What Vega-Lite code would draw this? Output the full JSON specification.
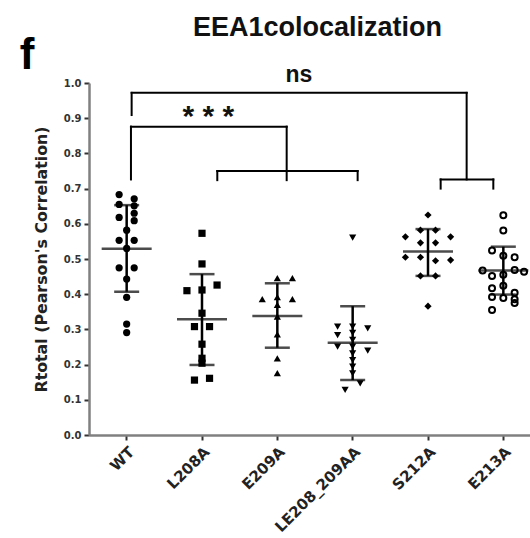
{
  "$schema": "https://vega.github.io/schema/vega-lite/v6.json",
  "width": 441,
  "height": 352,
  "autosize": {"type": "none"},
  "padding": {"left": 89, "top": 83, "right": 0, "bottom": 103},
  "background": "white",
  "title": {"text": "EEA1colocalization", "font": "Liberation Sans", "fontSize": 27, "fontWeight": "bold", "color": "#111", "anchor": "middle", "frame": "group", "dx": 8, "offset": -8},
  "config": {
    "view": {"stroke": null},
    "font": "DejaVu Sans",
    "axis": {"domainColor": "#808080", "domainWidth": 2.5, "tickColor": "#333", "tickWidth": 2, "tickSize": 5, "labelColor": "#333", "labelFont": "DejaVu Sans", "labelFontWeight": "bold", "grid": false, "titleColor": "#222"},
    "axisY": {"labelFontSize": 10, "labelPadding": 3, "titleFont": "DejaVu Sans", "titleFontSize": 15.8, "titleFontWeight": "bold", "titlePadding": 14, "labelOverlap": false, "labelSeparation": 0},
    "axisX": {"labelFontSize": 15, "labelAngle": -45, "labelPadding": 4, "labelColor": "#222"}
  },
  "datasets": {
    "points": [
      {"group": "WT", "jitter": -2, "value": 0.683}, {"group": "WT", "jitter": 2, "value": 0.671}, {"group": "WT", "jitter": -2, "value": 0.655}, {"group": "WT", "jitter": 2, "value": 0.651}, {"group": "WT", "jitter": 2, "value": 0.630}, {"group": "WT", "jitter": -2, "value": 0.618}, {"group": "WT", "jitter": 2, "value": 0.609}, {"group": "WT", "jitter": 0, "value": 0.582}, {"group": "WT", "jitter": -2, "value": 0.553}, {"group": "WT", "jitter": 2, "value": 0.553}, {"group": "WT", "jitter": 0, "value": 0.530}, {"group": "WT", "jitter": -2, "value": 0.475}, {"group": "WT", "jitter": 2, "value": 0.475}, {"group": "WT", "jitter": 0, "value": 0.443}, {"group": "WT", "jitter": 0, "value": 0.391}, {"group": "WT", "jitter": 0, "value": 0.315}, {"group": "WT", "jitter": 0, "value": 0.291},
      {"group": "L208A", "jitter": 0, "value": 0.573}, {"group": "L208A", "jitter": 0, "value": 0.486}, {"group": "L208A", "jitter": -4, "value": 0.410}, {"group": "L208A", "jitter": 4, "value": 0.426}, {"group": "L208A", "jitter": 0, "value": 0.412}, {"group": "L208A", "jitter": 0, "value": 0.346}, {"group": "L208A", "jitter": -2, "value": 0.308}, {"group": "L208A", "jitter": 2, "value": 0.308}, {"group": "L208A", "jitter": 0, "value": 0.258}, {"group": "L208A", "jitter": 0, "value": 0.218}, {"group": "L208A", "jitter": 0, "value": 0.204}, {"group": "L208A", "jitter": -2, "value": 0.156}, {"group": "L208A", "jitter": 2, "value": 0.161},
      {"group": "E209A", "jitter": 0, "value": 0.446}, {"group": "E209A", "jitter": 4, "value": 0.446}, {"group": "E209A", "jitter": -4, "value": 0.386}, {"group": "E209A", "jitter": 4, "value": 0.386}, {"group": "E209A", "jitter": 0, "value": 0.392}, {"group": "E209A", "jitter": 0, "value": 0.370}, {"group": "E209A", "jitter": 0, "value": 0.336}, {"group": "E209A", "jitter": 0, "value": 0.286}, {"group": "E209A", "jitter": 0, "value": 0.218}, {"group": "E209A", "jitter": 0, "value": 0.176},
      {"group": "LE208_209AA", "jitter": 0, "value": 0.561}, {"group": "LE208_209AA", "jitter": -4, "value": 0.308}, {"group": "LE208_209AA", "jitter": -4, "value": 0.284}, {"group": "LE208_209AA", "jitter": 0, "value": 0.308}, {"group": "LE208_209AA", "jitter": 4, "value": 0.303}, {"group": "LE208_209AA", "jitter": 0, "value": 0.290}, {"group": "LE208_209AA", "jitter": 0, "value": 0.270}, {"group": "LE208_209AA", "jitter": -4, "value": 0.251}, {"group": "LE208_209AA", "jitter": 4, "value": 0.240}, {"group": "LE208_209AA", "jitter": 0, "value": 0.251}, {"group": "LE208_209AA", "jitter": 0, "value": 0.232}, {"group": "LE208_209AA", "jitter": 0, "value": 0.213}, {"group": "LE208_209AA", "jitter": 0, "value": 0.194}, {"group": "LE208_209AA", "jitter": 0, "value": 0.175}, {"group": "LE208_209AA", "jitter": 2, "value": 0.147}, {"group": "LE208_209AA", "jitter": -2, "value": 0.128},
      {"group": "S212A", "jitter": 0, "value": 0.625}, {"group": "S212A", "jitter": -2, "value": 0.582}, {"group": "S212A", "jitter": 2, "value": 0.582}, {"group": "S212A", "jitter": -6, "value": 0.563}, {"group": "S212A", "jitter": 6, "value": 0.563}, {"group": "S212A", "jitter": -2, "value": 0.546}, {"group": "S212A", "jitter": 2, "value": 0.546}, {"group": "S212A", "jitter": -6, "value": 0.505}, {"group": "S212A", "jitter": -2, "value": 0.505}, {"group": "S212A", "jitter": 2, "value": 0.495}, {"group": "S212A", "jitter": 6, "value": 0.497}, {"group": "S212A", "jitter": -2, "value": 0.452}, {"group": "S212A", "jitter": 2, "value": 0.452}, {"group": "S212A", "jitter": 0, "value": 0.366},
      {"group": "E213A", "jitter": 0, "value": 0.624}, {"group": "E213A", "jitter": 0, "value": 0.581}, {"group": "E213A", "jitter": -3, "value": 0.524}, {"group": "E213A", "jitter": 0, "value": 0.509}, {"group": "E213A", "jitter": 3, "value": 0.505}, {"group": "E213A", "jitter": -5.5, "value": 0.467}, {"group": "E213A", "jitter": -3, "value": 0.452}, {"group": "E213A", "jitter": 0, "value": 0.455}, {"group": "E213A", "jitter": 3, "value": 0.469}, {"group": "E213A", "jitter": 5.5, "value": 0.464}, {"group": "E213A", "jitter": -3, "value": 0.417}, {"group": "E213A", "jitter": 0, "value": 0.424}, {"group": "E213A", "jitter": 3, "value": 0.404}, {"group": "E213A", "jitter": -3, "value": 0.392}, {"group": "E213A", "jitter": 0, "value": 0.389}, {"group": "E213A", "jitter": 3, "value": 0.386}, {"group": "E213A", "jitter": 3, "value": 0.375}, {"group": "E213A", "jitter": -3, "value": 0.355}
    ],
    "summary": [
      {"group": "WT", "mean": 0.529, "lo": 0.407, "hi": 0.653},
      {"group": "L208A", "mean": 0.329, "lo": 0.199, "hi": 0.457},
      {"group": "E209A", "mean": 0.338, "lo": 0.248, "hi": 0.431},
      {"group": "LE208_209AA", "mean": 0.262, "lo": 0.156, "hi": 0.366},
      {"group": "S212A", "mean": 0.521, "lo": 0.452, "hi": 0.585},
      {"group": "E213A", "mean": 0.467, "lo": 0.399, "hi": 0.535}
    ],
    "brackets": [
      {"x1": 1.066, "x2": 5.513, "y1": 0.972, "y2": 0.972},
      {"x1": 1.066, "x2": 1.066, "y1": 0.972, "y2": 0.909},
      {"x1": 5.513, "x2": 5.513, "y1": 0.972, "y2": 0.726},
      {"x1": 5.168, "x2": 5.867, "y1": 0.726, "y2": 0.726},
      {"x1": 5.168, "x2": 5.168, "y1": 0.726, "y2": 0.700},
      {"x1": 5.867, "x2": 5.867, "y1": 0.726, "y2": 0.700},
      {"x1": 1.057, "x2": 3.124, "y1": 0.876, "y2": 0.876},
      {"x1": 1.057, "x2": 1.057, "y1": 0.876, "y2": 0.726},
      {"x1": 3.124, "x2": 3.124, "y1": 0.876, "y2": 0.724},
      {"x1": 2.203, "x2": 4.066, "y1": 0.750, "y2": 0.750},
      {"x1": 2.203, "x2": 2.203, "y1": 0.750, "y2": 0.724},
      {"x1": 4.066, "x2": 4.066, "y1": 0.750, "y2": 0.724}
    ]
  },
  "resolve": {"scale": {"x": "independent"}, "axis": {"y": "independent"}},
  "layer": [
    {
      "resolve": {"axis": {"y": "independent"}},
      "layer": [
        {
          "data": {"name": "points"},
          "transform": [{"filter": "datum.group !== 'E213A'"}],
          "mark": {"type": "point", "filled": true, "color": "black", "opacity": 1},
          "encoding": {
            "x": {"field": "group", "type": "nominal", "title": null, "sort": null, "scale": {"domain": ["WT", "L208A", "E209A", "LE208_209AA", "S212A", "E213A"], "range": [0, 452], "paddingInner": 0, "paddingOuter": 0}},
            "xOffset": {"field": "jitter", "type": "quantitative", "scale": {"domain": [-10, 10], "range": [0, 75.33]}},
            "y": {"field": "value", "type": "quantitative", "title": "Rtotal (Pearson's Correlation)", "scale": {"domain": [0, 1], "nice": false}, "axis": {"values": [0, 0.1, 0.2, 0.3, 0.4, 0.5, 0.6, 0.7, 0.8, 0.9, 1.0], "format": ".1f", "labelOverlap": false}},
            "shape": {"field": "group", "type": "nominal", "legend": null, "scale": {"domain": ["WT", "L208A", "E209A", "LE208_209AA", "S212A"], "range": ["circle", "square", "triangle-up", "triangle-down", "diamond"]}},
            "size": {"field": "group", "type": "nominal", "legend": null, "scale": {"domain": ["WT", "L208A", "E209A", "LE208_209AA", "S212A"], "range": [52, 52, 52, 52, 30]}}
          }
        },
        {
          "data": {"name": "summary"},
          "mark": {"type": "rule", "color": "black", "strokeWidth": 2.5},
          "encoding": {
            "x": {"field": "group", "type": "nominal", "title": null, "sort": null},
            "y": {"field": "lo", "type": "quantitative", "scale": {"domain": [0, 1], "nice": false}, "axis": null},
            "y2": {"field": "hi"}
          }
        },
        {
          "data": {"name": "summary"},
          "mark": {"type": "tick", "color": "black", "size": 50, "thickness": 2.5},
          "encoding": {
            "x": {"field": "group", "type": "nominal", "title": null, "sort": null},
            "y": {"field": "mean", "type": "quantitative", "scale": {"domain": [0, 1], "nice": false}, "axis": null}
          }
        },
        {
          "data": {"name": "summary"},
          "mark": {"type": "tick", "color": "black", "size": 25, "thickness": 2.5},
          "encoding": {
            "x": {"field": "group", "type": "nominal", "title": null, "sort": null},
            "y": {"field": "lo", "type": "quantitative", "scale": {"domain": [0, 1], "nice": false}, "axis": null}
          }
        },
        {
          "data": {"name": "summary"},
          "mark": {"type": "tick", "color": "black", "size": 25, "thickness": 2.5},
          "encoding": {
            "x": {"field": "group", "type": "nominal", "title": null, "sort": null},
            "y": {"field": "hi", "type": "quantitative", "scale": {"domain": [0, 1], "nice": false}, "axis": null}
          }
        },
        {
          "data": {"name": "points"},
          "transform": [{"filter": "datum.group === 'E213A'"}],
          "mark": {"type": "point", "shape": "circle", "filled": false, "color": "black", "strokeWidth": 2, "size": 36, "opacity": 1},
          "encoding": {
            "x": {"field": "group", "type": "nominal", "title": null, "sort": null},
            "xOffset": {"field": "jitter", "type": "quantitative", "scale": {"domain": [-10, 10], "range": [0, 75.33]}},
            "y": {"field": "value", "type": "quantitative", "scale": {"domain": [0, 1], "nice": false}, "axis": null}
          }
        }
      ]
    },
    {
      "data": {"name": "brackets"},
      "mark": {"type": "rule", "color": "black", "strokeWidth": 2, "strokeCap": "square"},
      "encoding": {
        "x": {"field": "x1", "type": "quantitative", "axis": null, "scale": {"domain": [0.5, 6.5], "range": [0, 452]}},
        "x2": {"field": "x2"},
        "y": {"field": "y1", "type": "quantitative", "scale": {"domain": [0, 1], "nice": false}, "axis": null},
        "y2": {"field": "y2"}
      }
    },
    {
      "data": {"values": [{"label": "ns", "pos": 3.287, "val": 1.004}]},
      "mark": {"type": "text", "font": "Liberation Sans", "fontSize": 23, "fontWeight": "bold", "color": "#111", "align": "center", "baseline": "alphabetic"},
      "encoding": {
        "x": {"field": "pos", "type": "quantitative", "axis": null, "scale": {"domain": [0.5, 6.5], "range": [0, 452]}},
        "y": {"field": "val", "type": "quantitative", "scale": {"domain": [0, 1], "nice": false}, "axis": null},
        "text": {"field": "label"}
      }
    },
    {
      "data": {"values": [{"label": "* * *", "pos": 2.083, "val": 0.879}]},
      "mark": {"type": "text", "font": "Liberation Sans", "fontSize": 30, "fontWeight": "bold", "color": "#111", "align": "center", "baseline": "alphabetic"},
      "encoding": {
        "x": {"field": "pos", "type": "quantitative", "axis": null, "scale": {"domain": [0.5, 6.5], "range": [0, 452]}},
        "y": {"field": "val", "type": "quantitative", "scale": {"domain": [0, 1], "nice": false}, "axis": null},
        "text": {"field": "label"}
      }
    },
    {
      "data": {"values": [{"label": "f", "pos": -0.323, "val": 1.077}]},
      "mark": {"type": "text", "font": "Liberation Sans", "fontSize": 44, "fontWeight": "bold", "color": "#000", "align": "center", "baseline": "middle"},
      "encoding": {
        "x": {"field": "pos", "type": "quantitative", "axis": null, "scale": {"domain": [0.5, 6.5], "range": [0, 452]}},
        "y": {"field": "val", "type": "quantitative", "scale": {"domain": [0, 1], "nice": false}, "axis": null},
        "text": {"field": "label"}
      }
    }
  ]
}
